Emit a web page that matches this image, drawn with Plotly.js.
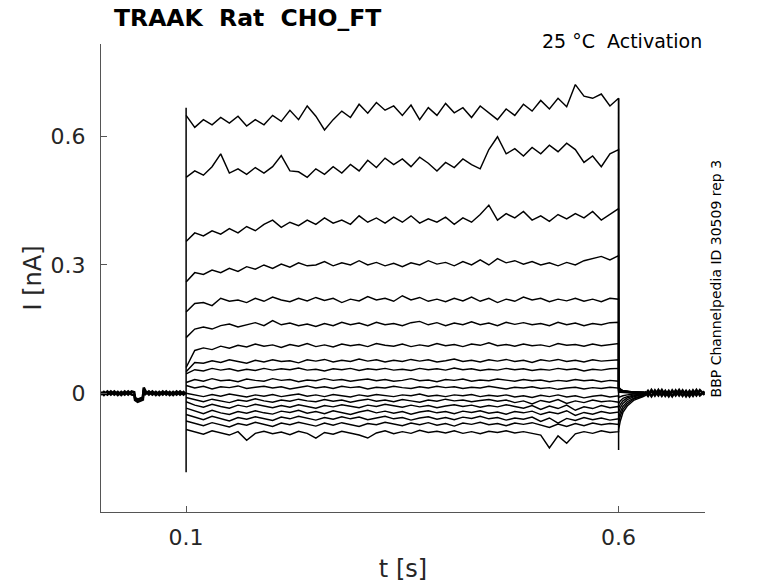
<!DOCTYPE html>
<html>
<head>
<meta charset="utf-8">
<script src="https://cdn.plot.ly/plotly-3.0.1.min.js"></script>
<style>
  body { margin: 0; background: #fff; }
  #chart { width: 778px; height: 583px; }
</style>
</head>
<body>
<div id="chart"></div>
<script>
// Time bases (s)
const tPre = [0.0016, 0.005, 0.009, 0.013, 0.017, 0.021, 0.025, 0.029, 0.033, 0.037,
  0.040, 0.041, 0.044, 0.047, 0.050, 0.051, 0.053, 0.057, 0.061, 0.065,
  0.069, 0.073, 0.077, 0.081, 0.085, 0.089, 0.093, 0.097, 0.0995];
const tStep = [0.10, 0.11, 0.12, 0.13, 0.14, 0.15, 0.16, 0.17, 0.18, 0.19,
  0.20, 0.21, 0.22, 0.23, 0.24, 0.25, 0.26, 0.27, 0.28, 0.29,
  0.30, 0.31, 0.32, 0.33, 0.34, 0.35, 0.36, 0.37, 0.38, 0.39,
  0.40, 0.41, 0.42, 0.43, 0.44, 0.45, 0.46, 0.47, 0.48, 0.49,
  0.50, 0.51, 0.52, 0.53, 0.54, 0.55, 0.56, 0.57, 0.58, 0.59,
  0.60];
const tTail = [0.6, 0.602, 0.605, 0.61, 0.618, 0.63];
const tPost = [0.63, 0.634, 0.638, 0.642, 0.646, 0.650, 0.654, 0.658, 0.662, 0.666,
  0.670, 0.674, 0.678, 0.682, 0.686, 0.690, 0.694, 0.6995];

// Holding current before / after the step (nA), two overlapping sweeps
const preA = [0.003, -0.004, 0.004, -0.003, 0.004, -0.004, 0.003, -0.003, 0.004, -0.003,
  -0.004, -0.016, -0.020, -0.017, -0.015, 0.013, 0.005, -0.003, 0.004, -0.004,
  0.003, -0.003, 0.004, -0.004, 0.003, -0.003, 0.004, -0.003, 0.002];
const preB = [-0.004, 0.003, -0.003, 0.004, -0.003, 0.003, -0.004, 0.004, -0.003, 0.004,
  0.002, -0.011, -0.015, -0.012, -0.010, 0.008, -0.002, 0.004, -0.003, 0.003,
  -0.004, 0.004, -0.003, 0.003, -0.004, 0.004, -0.003, 0.003, -0.003];
const postA = [0.004, -0.006, 0.007, -0.005, 0.007, -0.006, 0.005, -0.007, 0.006, -0.005,
  0.007, -0.006, 0.005, -0.007, 0.006, -0.005, 0.007, -0.004];
const postB = [-0.006, 0.005, -0.007, 0.006, -0.005, 0.007, -0.006, 0.005, -0.007, 0.006,
  -0.005, 0.006, -0.007, 0.005, -0.006, 0.007, -0.005, 0.004];

// Capacitive spikes at step on / off
const spikeT = [0.1, 0.1, null, 0.6, 0.6];
const spikeI = [-0.185, 0.668, null, -0.133, 0.69];

// Step currents (nA), one array per sweep
const step1 = [0.650, 0.622, 0.640, 0.628, 0.645, 0.632, 0.648, 0.625, 0.640, 0.628,
  0.650, 0.636, 0.662, 0.640, 0.672, 0.648, 0.616, 0.640, 0.660, 0.645,
  0.676, 0.655, 0.680, 0.662, 0.672, 0.650, 0.674, 0.640, 0.668, 0.650,
  0.678, 0.656, 0.668, 0.645, 0.672, 0.655, 0.640, 0.665, 0.650, 0.676,
  0.660, 0.685, 0.665, 0.690, 0.670, 0.722, 0.695, 0.690, 0.700, 0.672,
  0.690];
const step2 = [0.505, 0.520, 0.510, 0.530, 0.560, 0.515, 0.525, 0.512, 0.528, 0.515,
  0.530, 0.556, 0.520, 0.518, 0.505, 0.525, 0.512, 0.530, 0.515, 0.535,
  0.520, 0.545, 0.528, 0.550, 0.535, 0.548, 0.530, 0.552, 0.538, 0.520,
  0.540, 0.528, 0.548, 0.535, 0.525, 0.570, 0.600, 0.560, 0.572, 0.555,
  0.575, 0.560, 0.580, 0.565, 0.585, 0.570, 0.540, 0.555, 0.530, 0.560,
  0.570];
const step3 = [0.355, 0.375, 0.368, 0.380, 0.372, 0.385, 0.375, 0.390, 0.380, 0.395,
  0.405, 0.388, 0.400, 0.392, 0.405, 0.395, 0.410, 0.398, 0.405, 0.395,
  0.415, 0.400, 0.410, 0.398, 0.412, 0.400, 0.415, 0.398, 0.408, 0.400,
  0.412, 0.395, 0.410, 0.400, 0.418, 0.440, 0.405, 0.420, 0.410, 0.425,
  0.405, 0.415, 0.402, 0.418, 0.408, 0.420, 0.410, 0.425, 0.405, 0.418,
  0.432];
const step4 = [0.260, 0.282, 0.278, 0.288, 0.282, 0.292, 0.285, 0.296, 0.290, 0.300,
  0.292, 0.302, 0.295, 0.305, 0.298, 0.300, 0.308, 0.298, 0.305, 0.300,
  0.310, 0.300, 0.306, 0.298, 0.304, 0.296, 0.305, 0.300, 0.310, 0.302,
  0.306, 0.298, 0.308, 0.300, 0.312, 0.300, 0.315, 0.305, 0.310, 0.302,
  0.308, 0.300, 0.305, 0.298, 0.306, 0.300, 0.310, 0.315, 0.320, 0.312,
  0.322];
const step5 = [0.190, 0.210, 0.212, 0.205, 0.222, 0.215, 0.218, 0.212, 0.222, 0.215,
  0.225, 0.218, 0.214, 0.222, 0.216, 0.224, 0.217, 0.222, 0.212, 0.220,
  0.216, 0.226, 0.218, 0.222, 0.215, 0.228, 0.218, 0.224, 0.215, 0.220,
  0.214, 0.222, 0.216, 0.225, 0.215, 0.222, 0.212, 0.220, 0.215, 0.225,
  0.218, 0.222, 0.214, 0.220, 0.216, 0.222, 0.215, 0.220, 0.214, 0.222,
  0.220];
const step6 = [0.130, 0.150, 0.155, 0.150, 0.158, 0.162, 0.155, 0.160, 0.165, 0.158,
  0.170, 0.160, 0.164, 0.158, 0.162, 0.156, 0.163, 0.158, 0.166, 0.160,
  0.164, 0.158, 0.166, 0.160, 0.163, 0.158, 0.165, 0.168, 0.160, 0.165,
  0.158, 0.164, 0.160, 0.167, 0.160, 0.164, 0.158, 0.166, 0.161, 0.165,
  0.160, 0.163, 0.158, 0.166, 0.160, 0.164, 0.158, 0.163, 0.160, 0.165,
  0.166];
const step7 = [0.060, 0.100, 0.106, 0.102, 0.110, 0.105, 0.112, 0.108, 0.115, 0.110,
  0.113, 0.107, 0.114, 0.110, 0.116, 0.109, 0.113, 0.108, 0.115, 0.111,
  0.114, 0.109, 0.116, 0.112, 0.110, 0.115, 0.109, 0.113, 0.110, 0.116,
  0.111, 0.114, 0.109, 0.115, 0.112, 0.118, 0.111, 0.114, 0.110, 0.115,
  0.111, 0.113, 0.109, 0.116, 0.112, 0.114, 0.110, 0.115, 0.111, 0.114,
  0.116];
const step8 = [0.050, 0.072, 0.070, 0.076, 0.072, 0.078, 0.074, 0.070, 0.077, 0.073,
  0.078, 0.074, 0.076, 0.071, 0.078, 0.075, 0.079, 0.073, 0.077, 0.074,
  0.080, 0.075, 0.078, 0.073, 0.077, 0.074, 0.079, 0.075, 0.078, 0.073,
  0.076, 0.080, 0.074, 0.077, 0.073, 0.078, 0.075, 0.079, 0.074, 0.077,
  0.072, 0.078, 0.075, 0.079, 0.074, 0.077, 0.073, 0.078, 0.075, 0.077,
  0.078];
const step9 = [0.045, 0.055, 0.052, 0.058, 0.054, 0.057, 0.052, 0.056, 0.053, 0.058,
  0.054, 0.057, 0.055, 0.059, 0.054, 0.056, 0.052, 0.057, 0.055, 0.058,
  0.053, 0.057, 0.055, 0.058, 0.054, 0.056, 0.053, 0.058, 0.055, 0.057,
  0.054, 0.059, 0.055, 0.057, 0.053, 0.056, 0.054, 0.058, 0.055, 0.057,
  0.053, 0.056, 0.054, 0.058, 0.055, 0.057, 0.052, 0.056, 0.054, 0.057,
  0.058];
const step10 = [0.025, 0.032, 0.028, 0.034, 0.029, 0.031, 0.027, 0.033, 0.030, 0.028,
  0.034, 0.030, 0.032, 0.027, 0.031, 0.029, 0.034, 0.030, 0.032, 0.028,
  0.031, 0.033, 0.029, 0.032, 0.028, 0.030, 0.034, 0.029, 0.031, 0.027,
  0.032, 0.030, 0.033, 0.028, 0.031, 0.029, 0.033, 0.030, 0.028, 0.032,
  0.029, 0.031, 0.027, 0.030, 0.028, 0.032, 0.029, 0.031, 0.027, 0.030,
  0.028];
const step11 = [0.018, 0.012, 0.016, 0.010, 0.015, 0.013, 0.017, 0.011, 0.014, 0.016,
  0.012, 0.015, 0.010, 0.014, 0.017, 0.012, 0.015, 0.011, 0.016, 0.013,
  0.015, 0.010, 0.014, 0.012, 0.016, 0.013, 0.011, 0.015, 0.012, 0.016,
  0.013, 0.015, 0.011, 0.014, 0.012, 0.016, 0.013, 0.010, 0.014, 0.012,
  0.015, 0.011, 0.013, 0.009, 0.012, 0.014, 0.010, 0.013, 0.011, 0.014,
  0.012];
const step12 = [0.000, -0.004, -0.008, -0.003, -0.007, -0.002, -0.006, -0.009, -0.004, -0.007,
  -0.003, -0.008, -0.005, -0.002, -0.007, -0.004, -0.008, -0.003, -0.006, -0.009,
  -0.004, -0.007, -0.003, -0.006, -0.008, -0.004, -0.006, -0.002, -0.007, -0.005,
  -0.008, -0.004, -0.006, -0.003, -0.008, -0.005, -0.007, -0.004, -0.009, -0.006,
  -0.010, -0.005, -0.008, -0.004, -0.009, -0.006, -0.011, -0.007, -0.005, -0.009,
  -0.006];
const step13 = [-0.010, -0.015, -0.020, -0.014, -0.018, -0.022, -0.016, -0.019, -0.013, -0.018,
  -0.021, -0.016, -0.019, -0.014, -0.018, -0.020, -0.015, -0.019, -0.016, -0.021,
  -0.017, -0.014, -0.019, -0.016, -0.020, -0.015, -0.018, -0.021, -0.016, -0.019,
  -0.014, -0.018, -0.016, -0.020, -0.017, -0.015, -0.019, -0.016, -0.022, -0.018,
  -0.025, -0.017, -0.021, -0.015, -0.024, -0.018, -0.022, -0.016, -0.020, -0.018,
  -0.021];
const step14 = [-0.020, -0.028, -0.033, -0.026, -0.031, -0.035, -0.028, -0.032, -0.026, -0.030,
  -0.034, -0.029, -0.033, -0.027, -0.031, -0.035, -0.029, -0.032, -0.027, -0.030,
  -0.034, -0.028, -0.031, -0.026, -0.030, -0.033, -0.028, -0.032, -0.029, -0.034,
  -0.030, -0.027, -0.031, -0.028, -0.033, -0.029, -0.032, -0.027, -0.031, -0.035,
  -0.029, -0.038, -0.030, -0.036, -0.028, -0.040, -0.032, -0.036, -0.029, -0.034,
  -0.031];
const step15 = [-0.035, -0.042, -0.048, -0.040, -0.046, -0.050, -0.043, -0.047, -0.041, -0.046,
  -0.049, -0.042, -0.045, -0.040, -0.047, -0.043, -0.048, -0.041, -0.045, -0.050,
  -0.044, -0.040, -0.046, -0.042, -0.047, -0.043, -0.049, -0.044, -0.041, -0.046,
  -0.043, -0.048, -0.042, -0.045, -0.041, -0.047, -0.044, -0.049, -0.043, -0.046,
  -0.042, -0.050, -0.044, -0.048, -0.041, -0.052, -0.045, -0.049, -0.043, -0.047,
  -0.044];
const step16 = [-0.050, -0.056, -0.062, -0.054, -0.060, -0.065, -0.057, -0.061, -0.055, -0.059,
  -0.064, -0.056, -0.060, -0.054, -0.058, -0.063, -0.057, -0.061, -0.055, -0.060,
  -0.056, -0.062, -0.058, -0.054, -0.060, -0.057, -0.063, -0.058, -0.055, -0.061,
  -0.057, -0.062, -0.056, -0.059, -0.054, -0.060, -0.057, -0.063, -0.058, -0.061,
  -0.056, -0.066, -0.058, -0.070, -0.059, -0.064, -0.057, -0.062, -0.058, -0.063,
  -0.060];
const step17 = [-0.065, -0.070, -0.076, -0.069, -0.074, -0.079, -0.071, -0.075, -0.068, -0.073,
  -0.078, -0.070, -0.074, -0.068, -0.072, -0.077, -0.070, -0.075, -0.069, -0.073,
  -0.078, -0.071, -0.074, -0.068, -0.072, -0.076, -0.070, -0.074, -0.069, -0.075,
  -0.071, -0.077, -0.070, -0.073, -0.068, -0.074, -0.071, -0.076, -0.070, -0.073,
  -0.069, -0.075, -0.080, -0.072, -0.078, -0.071, -0.076, -0.070, -0.074, -0.071,
  -0.073];
const step18 = [-0.085, -0.090, -0.096, -0.088, -0.093, -0.098, -0.090, -0.110, -0.094, -0.089,
  -0.095, -0.091, -0.097, -0.089, -0.094, -0.105, -0.092, -0.096, -0.089, -0.094,
  -0.098, -0.105, -0.093, -0.088, -0.095, -0.090, -0.094, -0.087, -0.092, -0.089,
  -0.093, -0.088, -0.094, -0.090, -0.095, -0.089, -0.092, -0.088, -0.093, -0.090,
  -0.094, -0.098, -0.128, -0.100, -0.117, -0.095, -0.090, -0.094, -0.088, -0.092,
  -0.090];

// Tail currents after the step, on tTail
const tail1 = [0.016, 0.009, 0.006, 0.004, 0.003, 0.001];
const tail2 = [0.014, 0.010, 0.005, 0.005, 0.002, 0.002];
const tail3 = [0.012, 0.008, 0.006, 0.003, 0.003, 0.001];
const tail4 = [0.012, 0.007, 0.005, 0.004, 0.002, 0.002];
const tail5 = [0.010, 0.008, 0.004, 0.003, 0.003, 0.001];
const tail6 = [0.010, 0.006, 0.005, 0.003, 0.002, 0.002];
const tail7 = [0.008, 0.006, 0.004, 0.003, 0.001, 0.001];
const tail8 = [0.007, 0.005, 0.004, 0.002, 0.002, 0.000];
const tail9 = [0.006, 0.004, 0.003, 0.002, 0.001, 0.001];
const tail10 = [0.004, 0.003, 0.002, 0.002, 0.001, 0.000];
const tail11 = [0.002, 0.002, 0.001, 0.001, 0.000, 0.000];
const tail12 = [-0.010, -0.008, -0.006, -0.004, -0.002, -0.001];
const tail13 = [-0.025, -0.018, -0.012, -0.008, -0.004, -0.002];
const tail14 = [-0.035, -0.026, -0.018, -0.011, -0.006, -0.003];
const tail15 = [-0.045, -0.034, -0.024, -0.015, -0.008, -0.004];
const tail16 = [-0.058, -0.044, -0.031, -0.020, -0.011, -0.005];
const tail17 = [-0.070, -0.053, -0.038, -0.025, -0.013, -0.006];
const tail18 = [-0.085, -0.065, -0.045, -0.030, -0.016, -0.007];

// Axis ticks
const xTickVals = [0.1, 0.6];
const xTickText = ['0.1', '0.6'];
const yTickVals = [0, 0.3, 0.6];
const yTickText = ['0', '0.3', '0.6'];

const steps = [step1, step2, step3, step4, step5, step6, step7, step8, step9,
  step10, step11, step12, step13, step14, step15, step16, step17, step18];
const tails = [tail1, tail2, tail3, tail4, tail5, tail6, tail7, tail8, tail9,
  tail10, tail11, tail12, tail13, tail14, tail15, tail16, tail17, tail18];

function lineTrace(x, y, width) {
  return {
    x: x, y: y,
    type: 'scatter', mode: 'lines',
    line: { color: '#000', width: width },
    hoverinfo: 'skip'
  };
}

const traces = [];
traces.push(lineTrace(tPre, preA, 2.6));
traces.push(lineTrace(tPre, preB, 2.6));
traces.push(lineTrace(tPost, postA, 2.6));
traces.push(lineTrace(tPost, postB, 2.6));
steps.forEach((s, i) => {
  traces.push(lineTrace(tStep.concat(tTail), s.concat(tails[i]), 1.45));
});
traces.push(lineTrace(spikeT, spikeI, 1.5));

const tickFont = { family: 'DejaVu Sans', size: 22, color: '#262626' };
const titleFont = { family: 'DejaVu Sans', size: 24, color: '#262626' };

const layout = {
  width: 778,
  height: 583,
  margin: { l: 101, r: 73, t: 44, b: 71 },
  paper_bgcolor: '#fff',
  plot_bgcolor: '#fff',
  showlegend: false,
  font: { family: 'DejaVu Sans', color: '#000' },
  title: {
    text: '<b>TRAAK\u00a0 Rat\u00a0 CHO_FT</b>',
    font: { family: 'DejaVu Sans', size: 23.5, color: '#000' },
    xref: 'container', x: 114 / 778, xanchor: 'left',
    yref: 'container', y: 1 - 18 / 583, yanchor: 'middle'
  },
  xaxis: {
    range: [0.0016, 0.6999],
    tickvals: xTickVals,
    ticktext: xTickText,
    ticks: 'inside', ticklen: 6, tickcolor: '#555',
    showline: true, linecolor: '#555', linewidth: 1,
    showgrid: false, zeroline: false,
    tickfont: tickFont,
    ticklabelstandoff: 6,
    title: { text: 't [s]', font: titleFont, standoff: 12 }
  },
  yaxis: {
    range: [-0.278, 0.817],
    tickvals: yTickVals,
    ticktext: yTickText,
    ticks: 'inside', ticklen: 6, tickcolor: '#555',
    showline: true, linecolor: '#555', linewidth: 1,
    showgrid: false, zeroline: false,
    tickfont: tickFont,
    ticklabelstandoff: 10,
    title: { text: 'I [nA]', font: titleFont, standoff: 2 }
  },
  annotations: [
    {
      text: '25 °C\u00a0 Activation',
      xref: 'paper', yref: 'paper',
      x: 0.998, y: 1.006, xanchor: 'right', yanchor: 'middle',
      showarrow: false,
      font: { family: 'DejaVu Sans', size: 19, color: '#000' }
    },
    {
      text: 'BBP Channelpedia ID 30509 rep 3',
      xref: 'paper', yref: 'paper',
      x: 1.019, y: 0.5, xanchor: 'center', yanchor: 'middle',
      textangle: -90,
      showarrow: false,
      font: { family: 'DejaVu Sans', size: 14, color: '#000' }
    }
  ]
};

Plotly.newPlot('chart', traces, layout, { displayModeBar: false, staticPlot: true });
</script>
</body>
</html>
